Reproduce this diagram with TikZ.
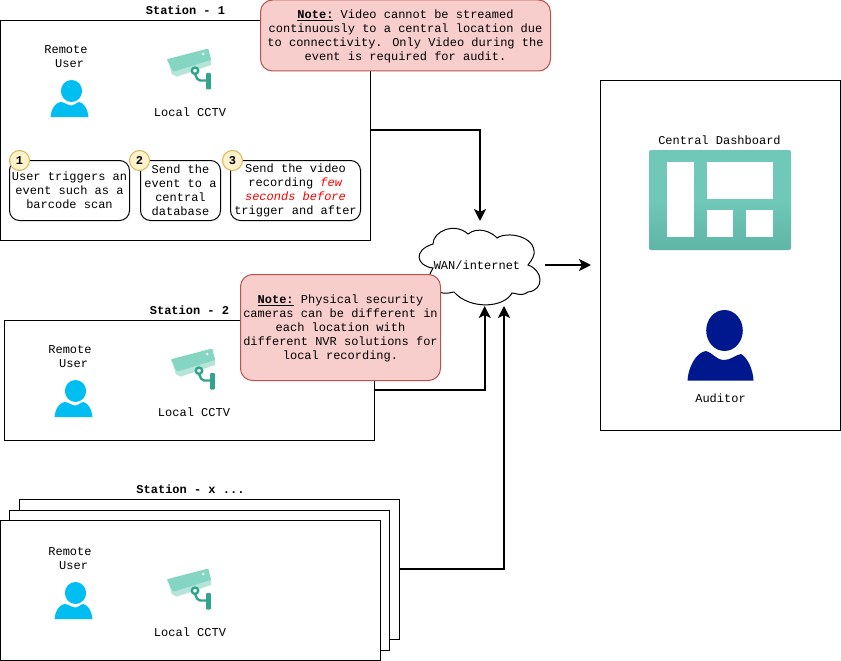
\documentclass[tikz,border=0pt]{standalone}
\usepackage{xcolor}
\usepackage{fontspec}
\setmainfont{Liberation Mono}
\usepackage{tikz}
\usetikzlibrary{arrows.meta,positioning}

\definecolor{notefill}{HTML}{F8CECC}
\definecolor{noteline}{HTML}{B85450}
\definecolor{badgefill}{HTML}{FFF2CC}
\definecolor{badgeline}{HTML}{D6B656}
\definecolor{usercyan}{HTML}{00BEF2}
\definecolor{auditorblue}{HTML}{00188D}
\definecolor{cambody}{HTML}{84D5C1}
\definecolor{camshade}{HTML}{B5E5D9}
\definecolor{cammount}{HTML}{2FA58D}
\definecolor{dashtop}{HTML}{6FC8B8}
\definecolor{dashbottom}{HTML}{5FB5A6}

\tikzset{
    txt/.style={font=\fontsize{12}{14}\selectfont, align=center, inner sep=0pt},
    stationbox/.style={rectangle, draw, fill=white, line width=1pt, outer sep=0pt},
    stationtitle/.style={txt, font=\fontsize{12}{14}\selectfont\bfseries},
    stepbox/.style={txt, rectangle, draw, line width=1pt, rounded corners=10pt, fill=white},
    badge/.style={txt, circle, draw=badgeline, fill=badgefill, line width=1pt, minimum size=20pt, font=\fontsize{12}{14}\selectfont\bfseries},
    notebox/.style={txt, rectangle, draw=noteline, fill=notefill, line width=1pt, rounded corners=12pt},
    flow/.style={line width=2pt, -{Stealth[length=12pt,width=12pt,inset=3pt]}},
    person/.pic={
        \fill[pic actions] (2,-11) ellipse (10.6 and 11);
        \fill[pic actions] (-19,15) .. controls (-18,6) and (-14,1) .. (-9,0)
            .. controls (-5,0) and (-2,3.5) .. (2,3.5)
            .. controls (5,3.5) and (7,0) .. (10,0)
            .. controls (14,1) and (18,6) .. (19,15) -- cycle;
    },
    camera/.pic={
        \fill[camshade] (-19.7,-4) -- (22,-12) -- (22,-4) -- (-12.3,7.7) -- (-17.3,5) -- cycle;
        \fill[cambody, rounded corners=1pt] (-22.3,-9.7) -- (19.3,-20.5) -- (22,-9) -- (-16,2.7) -- cycle;
        \fill[white] (14.3,-15) circle (1.4);
        \draw[cammount, line width=2.4pt, rounded corners=2pt] (6,5) -- (9,11.5) -- (18,11.5);
        \draw[cammount, line width=2.4pt, fill=white] (6,1.7) circle (3.2);
        \fill[cammount, rounded corners=1pt] (17,4) rectangle (21.8,20.5);
    }
}

\begin{document}
\begin{tikzpicture}[x=1pt, y=-1pt]
    \useasboundingbox (0,0) rectangle (841,661);

    % cloud goes first, the second note sits on it
    \draw[line width=1pt, fill=white] (433,268) .. controls (416,266) and (413,250) .. (433,244)
        .. controls (433,231) and (455,222) .. (468,234)
        .. controls (478,226) and (492,232) .. (497,238)
        .. controls (507,231) and (536,236) .. (534,254)
        .. controls (533,259) and (530,262) .. (528,265)
        .. controls (543,270) and (545,290) .. (528,292)
        .. controls (521,297) and (516,293) .. (512,293)
        .. controls (504,308) and (470,310) .. (454,292)
        .. controls (440,296) and (420,290) .. (433,268) -- cycle;
    \node (wan) [txt] at (477,265.5) {WAN/internet};

    % stations
    \node (stxc) [stationbox, minimum width=380pt, minimum height=140pt] at (209.5,569.5) {};
    \node (stxb) [stationbox, minimum width=380pt, minimum height=140pt] at (199.5,580.5) {};
    \node (stxa) [stationbox, minimum width=380pt, minimum height=140pt] at (190.5,590.5) {};
    \node (st1) [stationbox, minimum width=370pt, minimum height=220pt] at (185.5,130.5) {};
    \node (st2) [stationbox, minimum width=370pt, minimum height=120pt] at (189.5,380.5) {};

    \node (title1) [stationtitle, above=5.5pt of st1] {Station - 1};
    \node (title2) [stationtitle, above=5.5pt of st2] {Station - 2};
    \node (titlex) [stationtitle] at (190.5,489) {Station - x ...};

    \foreach \sid/\ox/\oy in {a/0/0, b/4/300, c/4/502} {
        \node (remote\sid) [txt] at (66+\ox,57+\oy) {Remote\\\mbox{\ User}};
        \pic[fill=usercyan] at (69.5+\ox,102+\oy) {person};
    }
    \foreach \sid/\ox/\oy in {a/0/0, b/4/300, c/0/520} {
        \pic at (189+\ox,69+\oy) {camera};
        \node (cctv\sid) [txt] at (190+\ox,112+\oy) {Local CCTV};
    }

    % steps in station 1
    \node (step1) [stepbox, minimum width=120pt, minimum height=60pt] at (69.5,190.5) {User triggers an\\event such as a\\barcode scan};
    \node (step2) [stepbox, minimum width=80pt, minimum height=60pt] at (180.5,190.5) {Send the\\event to a\\central\\database};
    \node (step3) [stepbox, minimum width=130pt, minimum height=60pt] at (295.5,190.5) {Send the video\\recording \textcolor{red}{\textit{few}}\\\textcolor{red}{\textit{seconds before}}\\trigger and after};
    \node (badge1) [badge] at (19.5,160.5) {1};
    \node (badge2) [badge] at (139.5,160.5) {2};
    \node (badge3) [badge] at (232.5,160.5) {3};

    % central side
    \node (central) [stationbox, minimum width=240pt, minimum height=350pt] at (720.5,255.5) {};
    \node (dashlabel) [txt] at (719.5,140) {Central Dashboard};
    \node (dash) [rectangle, rounded corners=2pt, top color=dashtop, bottom color=dashbottom, middle color=dashtop, minimum width=142pt, minimum height=100pt, inner sep=0pt, outer sep=0pt] at (720,200) {};
    \fill[white] (667,162) rectangle (694,237);
    \fill[white] (707,162) rectangle (773,199);
    \fill[white] (707,210) rectangle (733,237);
    \fill[white] (746,210) rectangle (773,237);
    \fill[auditorblue] (724.5,330.5) ellipse (18.3 and 20.5);
    \fill[auditorblue] (687.5,380.5) .. controls (688,368) and (696,352) .. (706,351)
        .. controls (712,352) and (716,360) .. (724,360)
        .. controls (731,360) and (735,355) .. (741,354)
        .. controls (748,358) and (753,370) .. (753.5,380.5) -- cycle;
    \node (auditor) [txt] at (720.5,398) {Auditor};

    % connectors
    \coordinate (st1out) at (371,130);
    \coordinate (st2out) at (375,390);
    \coordinate (stxout) at (400,569);
    \coordinate (wantop) at (480,221);
    \coordinate (wanin2) at (484.7,306);
    \coordinate (wanin3) at (504,306);
    \coordinate (wanout) at (545,265);
    \coordinate (centralin) at (591,265);
    \draw[flow] (st1out) -| (wantop);
    \draw[flow] (st2out) -| (wanin2);
    \draw[flow] (stxout) -| (wanin3);
    \draw[flow] (wanout) -- (centralin);

    % notes
    \node (note1) [notebox, minimum width=290pt, minimum height=71pt] at (405.5,35.5) {};
    \node (note1txt) [txt] at (405.5,36.2) {\textbf{\underline{Note:}} Video cannot be streamed\\continuously to a central location due\\to connectivity. Only Video during the\\event is required for audit.};
    \node (note2) [notebox, minimum width=200pt, minimum height=106pt] at (340.5,327.5) {};
    \node (note2txt) [txt] at (340.5,328.2) {\textbf{\underline{Note:}} Physical security\\cameras can be different in\\each location with\\different NVR solutions for\\local recording.};
\end{tikzpicture}
\end{document}
